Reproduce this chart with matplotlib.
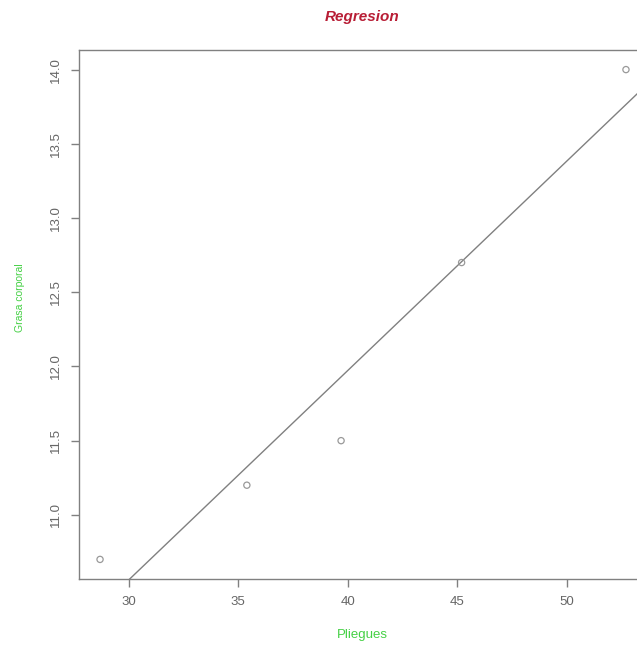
import matplotlib
matplotlib.use("Agg")
import matplotlib.pyplot as plt
import numpy as np

# Skinfold measurements vs body fat
pliegues = [28.7, 35.4, 39.7, 45.2, 52.7]
grasa = [10.7, 11.2, 11.5, 12.7, 14.0]
x_ticks = [30, 35, 40, 45, 50]
y_ticks = [11.0, 11.5, 12.0, 12.5, 13.0, 13.5, 14.0]

plt.rcParams['font.family'] = ['Liberation Sans', 'DejaVu Sans']

W, H = 637, 646
fig = plt.figure(figsize=(W / 100, H / 100), dpi=100)

left_px, right_px, top_px, bottom_px = 79, 647, 50, 579
ax = fig.add_axes([left_px / W, 1 - bottom_px / H,
                   (right_px - left_px) / W, (bottom_px - top_px) / H])

# R-style 4% padding around the data range
xr = max(pliegues) - min(pliegues)
yr = max(grasa) - min(grasa)
ax.set_xlim(min(pliegues) - 0.04 * xr, max(pliegues) + 0.04 * xr)
ax.set_ylim(min(grasa) - 0.04 * yr, max(grasa) + 0.04 * yr)

ax.scatter(pliegues, grasa, s=20, facecolors='none', edgecolors='#999999',
           linewidths=0.9, zorder=3)

slope, intercept = np.polyfit(pliegues, grasa, 1)
xs = np.array([20, 60])
ax.plot(xs, intercept + slope * xs, color='#808080', lw=1.0)

ax.set_xticks(x_ticks)
ax.set_xticklabels([str(v) for v in x_ticks])
ax.set_yticks(y_ticks)
ax.set_yticklabels([f"{v:.1f}" for v in y_ticks], rotation=90, va='center')

for s in ax.spines.values():
    s.set_color('#808080')
    s.set_linewidth(1.0)
ax.tick_params(axis='both', colors='#808080', labelcolor='#666666',
               length=6, width=1.0, labelsize=9.5, pad=6)

fig.text(362 / W, 1 - 17 / H, "Regresion", color='#b81d35',
         fontsize=11, fontweight='bold', fontstyle='italic',
         ha='center', va='center')
fig.text(362 / W, 1 - 635 / H, "Pliegues", color='#44d044',
         fontsize=9.5, ha='center', va='center')
fig.text(20 / W, 1 - 298 / H, "Grasa corporal", color='#44d044',
         fontsize=7.5, ha='center', va='center', rotation=90)

fig.savefig("out.png", dpi=100)
